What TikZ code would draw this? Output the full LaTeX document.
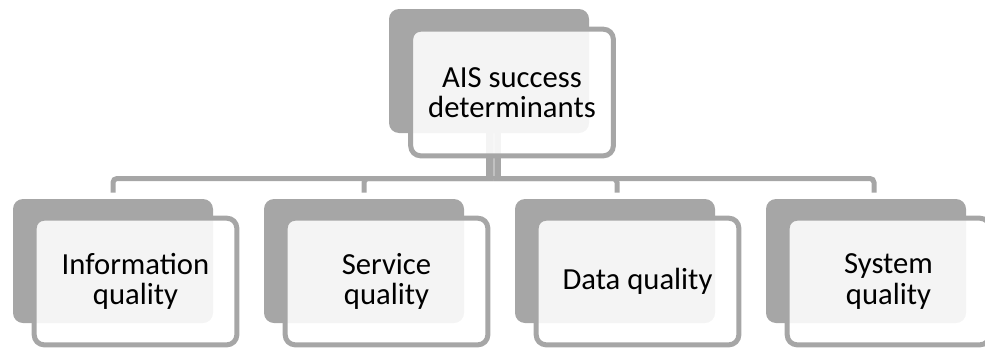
\documentclass[tikz,border=0pt]{standalone}
\usepackage{fontspec}
\setmainfont{Carlito}
\usetikzlibrary{positioning,backgrounds}
\definecolor{shade}{HTML}{A6A6A6}
\begin{document}
\begin{tikzpicture}[x=0.75pt,y=-0.75pt,
  back/.style={fill=shade,rounded corners=7.5pt,minimum width=150pt,minimum height=93pt,inner sep=0pt},
  front/.style={draw=shade,line width=3.75pt,fill=white,fill opacity=0.88,text opacity=1,rounded corners=7.5pt,
    minimum width=152pt,minimum height=95pt,inner sep=0pt,align=center,font=\fontsize{23}{23}\selectfont},
  bus/.style={draw=shade,line width=3.75pt,rounded corners=3pt},
  trunk/.style={draw=shade,line width=11.25pt}]
\useasboundingbox (0,0) rectangle (985,350);
\node[back] (rootB) at (489,71) {};
\node[front] (rootF) at ([shift={(23,21.5)}]rootB.center) {AIS success\\determinants};
\node[back] (infoB) at (113,261) {};
\node[front] (infoF) at ([shift={(22.5,20.5)}]infoB.center) {Information\\quality};
\node[back] (servB) at (364,261) {};
\node[front] (servF) at ([shift={(22.5,20.5)}]servB.center) {Service\\quality};
\node[back] (dataB) at (615,261) {};
\node[front] (dataF) at ([shift={(22.5,20.5)}]dataB.center) {Data quality};
\node[back] (sysB) at (866,261) {};
\node[front] (sysF) at ([shift={(22.5,20.5)}]sysB.center) {System\\quality};
\coordinate (hub) at (493.5,178.5);
\begin{scope}[on background layer]
\draw[trunk] (hub |- rootB.south) -- (hub);
\draw[draw=shade!70,line width=1.5pt] (hub |- rootB.south) -- (hub);
\draw[bus] (hub) -| ([shift={(0,-6)}]infoB.north);
\draw[bus] (hub) -| ([shift={(0,-6)}]servB.north);
\draw[bus] (hub) -| ([shift={(2,-6)}]dataB.north);
\draw[bus] (hub) -| ([shift={(8,-6)}]sysB.north);
\end{scope}
\end{tikzpicture}
\end{document}
